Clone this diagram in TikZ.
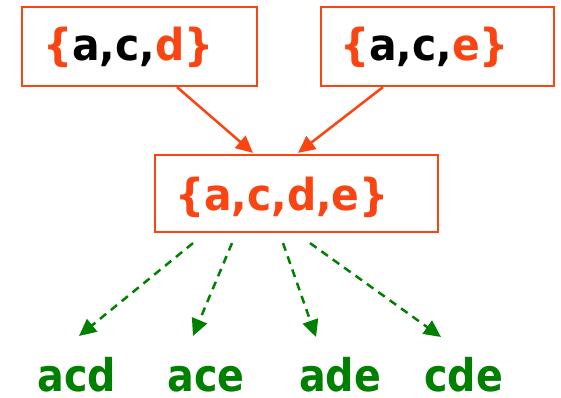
\documentclass[tikz,border=0pt]{standalone}
\usepackage{fontspec}
\usetikzlibrary{arrows.meta}
\newfontfamily\setfont[FakeStretch=0.93]{DejaVu Sans}
\newfontfamily\subfont[FakeStretch=0.88]{DejaVu Sans}
\definecolor{setred}{RGB}{250,68,18}
\definecolor{subgreen}{RGB}{0,128,0}
\newcommand{\rd}[1]{\textcolor{setred}{#1}}
\begin{document}
\begin{tikzpicture}
[x=1pt, y=-1pt,
 setbox/.style={draw=setred, line width=2.2pt, inner ysep=0pt, text height=54pt, text depth=25pt, align=left,
   font=\setfont\bfseries\fontsize{44}{50}\selectfont},
 subset/.style={inner sep=0pt, anchor=base, text=subgreen,
   font=\subfont\bfseries\fontsize{45}{50}\selectfont},
 joinarrow/.style={line width=2.5pt, draw=setred, -{Triangle[length=17pt, width=16pt]}},
 droparrow/.style={line width=2.5pt, draw=subgreen, dash pattern=on 8pt off 6pt, -{Triangle[length=17pt, width=16pt]}}]
\useasboundingbox (0,0) rectangle (561,398);
\node (acd) [setbox, inner xsep=21pt, text width=193pt] at (139.5, 46.5) {\rd{\{}a,c,\rd{d}\rd{\}}};
\node (ace) [setbox, inner xsep=19pt, text width=195pt] at (437.5, 46.5) {\rd{\{}a,c,\rd{e}\rd{\}}};
\node (acde) [setbox, inner xsep=20pt, text width=243pt, text height=55pt, text depth=22pt, text=setred] at (296.5, 193.5) {\{a,c,d,e\}};
\node (acd2) [subset] at (77, 391) {acd};
\node (ace2) [subset] at (206, 391) {ace};
\node (ade2) [subset] at (340, 391) {ade};
\node (cde2) [subset] at (463.5, 391) {cde};
\draw [joinarrow] ([xshift=37.5pt]acd.south) to ([xshift=-43.5pt, yshift=1pt]acde.north);
\draw [joinarrow] ([xshift=-54.5pt]ace.south) to ([xshift=1.5pt, yshift=1pt]acde.north);
\draw [droparrow] ([xshift=-103.5pt, yshift=-10pt]acde.south) to ([xshift=2pt, yshift=55pt]acd2.base);
\draw [droparrow] ([xshift=-64.5pt, yshift=-10pt]acde.south) to ([xshift=-13pt, yshift=55pt]ace2.base);
\draw [droparrow] ([xshift=-13.5pt, yshift=-10pt]acde.south) to ([xshift=-24pt, yshift=54pt]ade2.base);
\draw [droparrow] ([xshift=13.5pt, yshift=-10pt]acde.south) to ([xshift=-22.5pt, yshift=54pt]cde2.base);
\end{tikzpicture}
\end{document}
